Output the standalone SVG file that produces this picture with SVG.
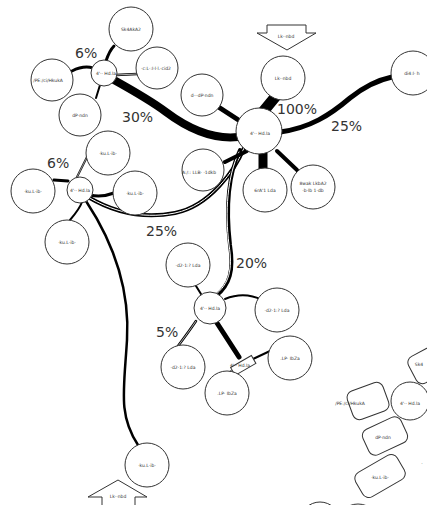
<svg xmlns="http://www.w3.org/2000/svg" width="427" height="505" viewBox="0 0 427 505">
<style>
.n{fill:#fff;stroke:#333;stroke-width:1}
.t{font-family:"DejaVu Sans",sans-serif;font-size:4.5px;fill:#333;text-anchor:middle}
.p{font-family:"DejaVu Sans",sans-serif;font-size:14px;fill:#333}
.c{fill:none;stroke:#000;stroke-linecap:round}
.w{fill:none;stroke:#fff;stroke-linecap:round}
</style>
<rect width="427" height="505" fill="#fff"/>
<g id="connectors">
<path class="c" stroke-width="11" d="M262,113 L276,96"/>
<path class="c" stroke-width="5" d="M280,132 C310,128 330,115 350,98 C365,86 378,80 392,77"/>
<path class="c" stroke-width="8" d="M114,80 C132,90 150,100 166,112 C186,127 210,140 238,137"/>
<path class="c" stroke-width="4" d="M88,197 C110,210 140,220 175,213 C210,206 235,170 244,148"/>
<path class="w" stroke-width="1" d="M88,197 C110,210 140,220 175,213 C210,206 235,170 244,148"/>
<path class="c" stroke-width="4" d="M240,150 C228,175 226,210 230,245 C234,270 230,285 216,296"/>
<path class="w" stroke-width="1" d="M239,152 C227,177 225,212 229,245 C233,270 229,284 215,295"/>
<path class="c" stroke-width="5" d="M220,108 L240,121"/>
<path class="c" stroke-width="4" d="M247,151 L225,162"/>
<path class="c" stroke-width="9" d="M263,152 L263,169"/>
<path class="c" stroke-width="4" d="M277,151 L297,170"/>
<path class="c" stroke-width="3" d="M106,61 C108,55 110,50 114,46"/>
<path class="c" stroke-width="3" d="M72,71 C78,68 86,66 93,68"/>
<path class="c" stroke-width="2" d="M100,85 L96,98"/>
<path class="c" stroke-width="2.5" d="M116,75 L137,74"/>
<path class="w" stroke-width="0.7" d="M116,75 L137,74"/>
<path class="c" stroke-width="2" d="M77,177 L87,157"/>
<path class="w" stroke-width="0.6" d="M77,177 L87,157"/>
<path class="c" stroke-width="3" d="M54,180 L68,181"/>
<path class="c" stroke-width="3" d="M90,195 C98,197 106,196 114,193"/>
<path class="c" stroke-width="2" d="M82,202 C80,208 76,213 70,220"/>
<path class="c" stroke-width="2.5" d="M86,201 C115,245 130,290 127,340 C124,390 118,415 138,445"/>
<path class="c" stroke-width="2" d="M201,294 L196,286"/>
<path class="c" stroke-width="2" d="M225,299 C235,295 248,293 262,300"/>
<path class="c" stroke-width="2.5" d="M196,321 C190,330 184,338 178,346"/>
<path class="w" stroke-width="0.7" d="M196,321 C190,330 184,338 178,346"/>
<path class="c" stroke-width="5" d="M217,323 L239,357"/>
<path class="c" stroke-width="2" d="M253,359 L270,351"/>
<path class="c" stroke-width="1.5" d="M231,371 L222,377"/>
</g>
<g id="n1"><circle class="n" cx="131" cy="29" r="22"/><text class="t" x="131" y="31">Sk4AkA2</text></g>
<g id="n2"><circle class="n" cx="52" cy="80" r="21"/><text class="t" x="48" y="82">/PE:/ci/HkukA</text></g>
<g id="n3"><circle class="n" cx="104" cy="73" r="13"/><text class="t" x="106" y="75">4'·· Hd.la</text></g>
<g id="n4"><circle class="n" cx="157" cy="68" r="21"/><text class="t" x="156" y="70">·c:L·:I·l·l.·cid2</text></g>
<g id="n5"><circle class="n" cx="80" cy="115" r="21"/><text class="t" x="80" y="117">dP·ndn</text></g>
<g id="n6"><circle class="n" cx="202" cy="95" r="21"/><text class="t" x="202" y="97">d···dP·ndn</text></g>
<g id="n7"><polygon class="n" points="267,25 306,25 306,33 316,33 287,50 257,33 267,33"/><text class="t" x="286" y="38">Lk··nbd</text></g>
<g id="n8"><circle class="n" cx="283" cy="78" r="22"/><text class="t" x="283" y="80">Lk··nbd</text></g>
<g id="n9"><circle class="n" cx="259" cy="131" r="23"/><text class="t" x="260" y="135">4'·· Hd.la</text></g>
<g id="n10"><circle class="n" cx="413" cy="73" r="22"/><text class="t" x="412" y="75">di4:l· h</text></g>
<g id="n11"><circle class="n" cx="108" cy="153" r="22"/><text class="t" x="108" y="155">·ku.L·ib·</text></g>
<g id="n12"><circle class="n" cx="33" cy="191" r="22"/><text class="t" x="33" y="193">·ku.L·ib·</text></g>
<g id="n13"><circle class="n" cx="80" cy="190" r="13"/><text class="t" x="80" y="192">4'·· Hd.la</text></g>
<g id="n14"><circle class="n" cx="135" cy="193" r="22"/><text class="t" x="135" y="195">·ku.L·ib·</text></g>
<g id="n15"><circle class="n" cx="67" cy="242" r="22"/><text class="t" x="67" y="244">·ku.L·ib·</text></g>
<g id="n16"><circle class="n" cx="203" cy="170" r="21"/><text class="t" x="199" y="174">A:/:: LLB· ·1dkb</text></g>
<g id="n17"><circle class="n" cx="265" cy="190" r="22"/><text class="t" x="265" y="192">6rA'1 Lda</text></g>
<g id="n18"><circle class="n" cx="313" cy="187" r="22"/><text class="t" x="313" y="185">8wak LkbA2</text><text class="t" x="313" y="192">·b·lb 1·db</text></g>
<g id="n19"><circle class="n" cx="188" cy="265" r="22"/><text class="t" x="188" y="267">·d2·1:? Lda</text></g>
<g id="n20"><circle class="n" cx="210" cy="308" r="16"/><text class="t" x="210" y="310">4'·· Hd.la</text></g>
<g id="n21"><circle class="n" cx="277" cy="310" r="22"/><text class="t" x="277" y="312">·d2·1:? Lda</text></g>
<g id="n22"><circle class="n" cx="183" cy="367" r="22"/><text class="t" x="183" y="369">·d2·1:? Lda</text></g>
<g id="n23"><rect class="n" x="231" y="361" width="24" height="9" transform="rotate(-30 243 365)"/><text class="t" x="240" y="367">4'·· Hd.la</text></g>
<g id="n24"><circle class="n" cx="290" cy="358" r="22"/><text class="t" x="290" y="360">.LP· IbZa</text></g>
<g id="n25"><circle class="n" cx="227" cy="393" r="22"/><text class="t" x="227" y="395">.LP· IbZa</text></g>
<g id="n26"><circle class="n" cx="147" cy="465" r="22"/><text class="t" x="147" y="467">·ku.L·ib·</text></g>
<g id="n27"><polygon class="n" points="118,480 147,497 135,497 135,510 102,510 102,497 88,497"/><text class="t" x="118" y="498">Lk··nbd</text></g>
<g id="n28"><rect class="n" x="349" y="386" width="38" height="30" rx="7" transform="rotate(-20 368 401)"/><text class="t" x="350" y="405">/PE:/ci/HkukA</text></g>
<g id="n29"><circle class="n" cx="410" cy="401" r="19"/><text class="t" x="410" y="405">4'·· Hd.la</text></g>
<g id="n30"><rect class="n" x="364" y="422" width="42" height="28" rx="7" transform="rotate(-25 385 436)"/><text class="t" x="383" y="439">dP·ndn</text></g>
<g id="n31"><rect class="n" x="356" y="462" width="48" height="28" rx="7" transform="rotate(-30 380 476)"/><text class="t" x="380" y="479">·ku.L·ib·</text></g>
<g id="n32"><rect class="n" x="410" y="348" width="42" height="30" rx="7" transform="rotate(-28 431 363)"/><text class="t" x="419" y="366">Sk4</text></g>
<g id="n33"><circle class="n" cx="320" cy="522" r="20"/></g>
<g id="n34"><circle class="n" cx="358" cy="526" r="22"/></g>
<text class="t" x="422" y="465">·</text>
<g id="labels">
<text class="p" x="75" y="58">6%</text>
<text class="p" x="122" y="122">30%</text>
<text class="p" x="277" y="114">100%</text>
<text class="p" x="331" y="131">25%</text>
<text class="p" x="47" y="168">6%</text>
<text class="p" x="146" y="236">25%</text>
<text class="p" x="236" y="268">20%</text>
<text class="p" x="156" y="337">5%</text>
</g>
</svg>
